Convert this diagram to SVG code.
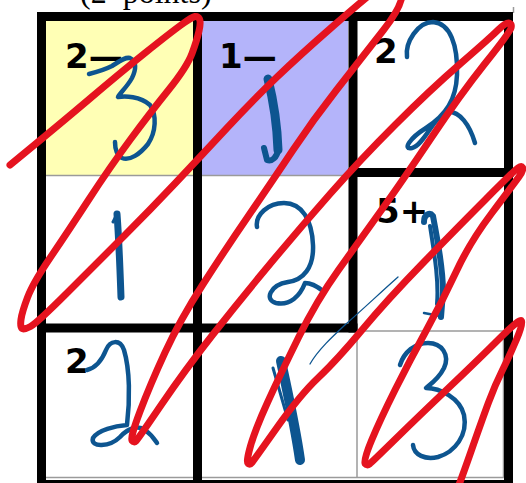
<svg xmlns="http://www.w3.org/2000/svg" width="526" height="483" viewBox="0 0 526 483">
<style>
.thin{stroke:#9a9a9a;stroke-width:1.5;fill:none}
.thick{stroke:#000;stroke-width:9;fill:none;stroke-linecap:square}
.lbl{font-family:"DejaVu Sans",sans-serif;font-weight:bold;font-size:34px;fill:#000}
.ink{stroke:#0d5590;fill:none;stroke-linecap:round;stroke-linejoin:round}
.red{stroke:#e5131f;stroke-width:7;fill:none;stroke-linecap:round;stroke-linejoin:round}
</style>
<rect width="526" height="483" fill="#fff"/>
<text x="80" y="3" font-family="Liberation Serif, serif" font-size="32" fill="#000" xml:space="preserve" style="white-space:pre">(2  points)</text>
<g id="grid">
<rect x="46" y="21" width="147" height="154" fill="#ffffb5"/>
<rect x="202" y="21" width="146" height="154" fill="#b4b4fa"/>
<line class="thin" x1="46" y1="175.5" x2="348" y2="175.5"/>
<line class="thin" x1="358" y1="331" x2="504" y2="331"/>
<line class="thin" x1="357" y1="332" x2="357" y2="478"/>
<line class="thin" x1="503.5" y1="333" x2="503.5" y2="478"/>
<line class="thin" x1="202" y1="477.5" x2="504" y2="477.5"/>
<line class="thin" x1="46" y1="477.5" x2="193" y2="477.5"/>
<line class="thin" x1="513.5" y1="7" x2="513.5" y2="13"/>
<rect class="thick" x="41.5" y="16.5" width="467" height="468"/>
<line class="thick" x1="197.5" y1="16.5" x2="197.5" y2="484"/>
<line class="thick" x1="353" y1="16.5" x2="353" y2="328"/>
<line class="thick" x1="353" y1="172.5" x2="509" y2="172.5"/>
<line class="thick" x1="41.5" y1="328" x2="353" y2="328"/>
</g>
<g id="cage-2minus"><text class="lbl" x="65" y="68">2—</text></g>
<g id="cage-1minus"><text class="lbl" x="219" y="68">1—</text></g>
<g id="cage-2a"><text class="lbl" x="374" y="63">2</text></g>
<g id="cage-5plus"><text class="lbl" x="376" y="223">5+</text></g>
<g id="cage-2b"><text class="lbl" x="65" y="373">2</text></g>
<g id="handwriting">
<path class="ink" stroke-width="4.5" d="M89,74 C97,72 104,70 112,66 C120,61 125,57 130,58 C137,61 136,70 132,78 C127,87 120,93 118,97 C125,96 140,96 150,105 C157,115 156,132 148,144 C140,154 130,161 122,158 C116,155 115,148 115,142"/>
<path class="ink" stroke-width="9" d="M268,79 C272,95 277,120 278,150"/>
<path class="ink" stroke-width="6" d="M278,150 C277,157 272,162 267,160 L264,148"/>
<path class="ink" stroke-width="4.5" d="M407,57 C405,42 418,22 433,22 C450,23 458,45 457,75 C456,100 446,115 426,128 C410,138 402,150 412,148 C424,145 433,118 446,112 C460,110 470,126 475,143"/>
<path class="ink" stroke-width="7" d="M117,214 C119,240 120,270 121,297"/>
<path class="ink" stroke-width="3" d="M116,216 L113,222"/>
<path class="ink" stroke-width="4.5" d="M257,227 C255,215 268,203 284,203 C302,203 312,220 313,245 C314,268 303,280 288,282 C270,285 264,300 276,303 C290,306 300,296 305,283 C312,283 318,287 323,291"/>
<path class="ink" stroke-width="6" d="M424,222 C424,214 430,212 433,216 C437,238 443,265 443,292 L441,317"/>
<path class="ink" stroke-width="4" d="M430,226 C434,252 439,280 437,304"/>
<path class="ink" stroke-width="2.5" d="M424,313 L440,316"/>
<path class="ink" stroke-width="1.3" d="M398,277 C380,293 362,310 346,324 C332,337 318,350 310,364"/>
<path class="ink" stroke-width="10" d="M281,361 C287,390 295,425 300,460"/>
<path class="ink" stroke-width="3" d="M273,368 L288,420"/>
<path class="ink" stroke-width="4.5" d="M87,370 C95,368 102,360 106,350 C110,340 120,339 124,350 C130,370 130,400 127,425 C115,426 98,430 93,438 C90,448 110,447 120,437 C128,428 138,425 145,430 C152,435 155,440 157,443"/>
<path class="ink" stroke-width="4.5" d="M400,365 C404,352 415,343 428,343 C442,343 450,355 444,368 C438,380 428,386 426,388 C440,388 460,398 464,415 C468,435 455,452 438,457 C425,460 414,455 413,445"/>
</g>
<g id="scribble">
<path class="red" d="M10,165 Q60,124 90,98.5 Q120,73 145,53 Q170,33 181,25 Q192,17 195,16.5 Q198,16 199.5,19 Q201,22 199,31 Q197,40 192,53.5 Q187,67 168.5,90 Q150,113 130,140 Q110,167 88.5,200 Q67,233 50,258 Q33,283 27.5,297.5 Q22,312 21,319.5 Q20,327 22,328.5 Q24,330 30.5,326.5 Q37,323 68.5,291.5 Q100,260 125,235 Q150,210 175,183.5 Q200,157 226.5,128.5 Q253,100 276.5,77.5 Q300,55 331.5,27.5 Q363,0 379,-12.5 Q395,-25 401,-12.5 Q407,0 383.5,30 Q360,60 336.5,90 Q313,120 293,150 Q273,180 249,215 Q225,250 202.5,285 Q180,320 165,352.5 Q150,385 140,411.5 Q130,438 132,440.5 Q134,443 136,441 Q138,439 161.5,404.5 Q185,370 212.5,335 Q240,300 270,264 Q300,228 330,194 Q360,160 395,125 Q430,90 460,64 Q490,38 498,30 Q506,22 509,23 Q512,24 511,28 Q510,32 485,63.5 Q460,95 431.5,137.5 Q403,180 381.5,210 Q360,240 338.5,270 Q317,300 298.5,337.5 Q280,375 267.5,402.5 Q255,430 250.5,446 Q246,462 248,463.5 Q250,465 252,462.5 Q254,460 277,427.5 Q300,395 318.5,377.5 Q337,360 362,330 Q387,300 423.5,262.5 Q460,225 485,200 Q510,175 515.5,170 Q521,165 522.5,167.5 Q524,170 518.5,177.5 Q513,185 491.5,213.5 Q470,242 456.5,271 Q443,300 426.5,330 Q410,360 395,390 Q380,420 371.5,440.5 Q363,461 365,463.5 Q367,466 369.5,464 Q372,462 396,438.5 Q420,415 449,387.5 Q478,360 499,339 Q520,318 521.5,321 Q523,324 516.5,339.5 Q510,355 502.5,370 Q495,385 488.5,402.5 Q482,420 471,451.5 Q460,483 455,495"/>
</g>
</svg>
